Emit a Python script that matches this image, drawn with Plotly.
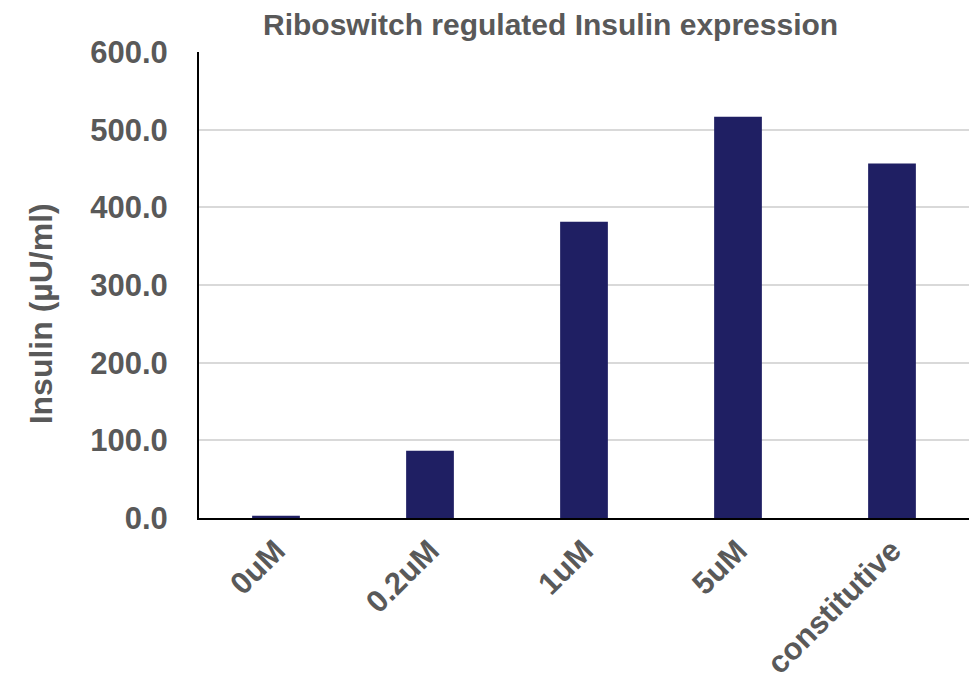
import plotly.graph_objects as go

categories = ["0uM", "0.2uM", "1uM", "5uM", "constitutive"]
insulin = [3.0, 86.5, 381.5, 516.5, 456.5]
y_ticks = [0, 100, 200, 300, 400, 500, 600]

font_family = "Liberation Sans, Arial, sans-serif"
grey = "#595959"

fig = go.Figure()
fig.add_trace(go.Bar(
    x=categories,
    y=insulin,
    marker=dict(color="#1f1f63", line=dict(width=0)),
))

fig.update_layout(
    width=977, height=685,
    margin=dict(l=191, r=16, t=44, b=166),
    paper_bgcolor="white",
    plot_bgcolor="white",
    bargap=0.69,
    showlegend=False,
    font=dict(family=font_family, color=grey),
    annotations=[
        dict(text="<b>Riboswitch regulated Insulin expression</b>",
             xref="paper", yref="paper", x=0.456, y=1, yshift=28,
             xanchor="center", yanchor="middle", showarrow=False,
             font=dict(size=30, color=grey, family=font_family)),
        dict(text="<b>Insulin (µU/ml)</b>",
             xref="paper", yref="paper", x=0, xshift=-158, y=0.437,
             xanchor="center", yanchor="middle", textangle=-90, showarrow=False,
             font=dict(size=32, color=grey, family=font_family)),
    ],
)

fig.update_xaxes(
    showline=True, linecolor="black", linewidth=2,
    tickangle=-45, ticks="",
    tickfont=dict(size=31, color=grey, family=font_family),
    tickprefix="<b>", ticksuffix="</b>",
)
fig.update_yaxes(
    range=[0, 600], tickvals=y_ticks,
    ticktext=[f"<b>{v:.1f}</b>" for v in y_ticks],
    showgrid=True, gridcolor="#d9d9d9", gridwidth=1.5,
    showline=True, linecolor="black", linewidth=2,
    zeroline=False, ticks="", ticklabelstandoff=23,
    tickfont=dict(size=31, color=grey, family=font_family),
)

fig.write_html("out.html")
